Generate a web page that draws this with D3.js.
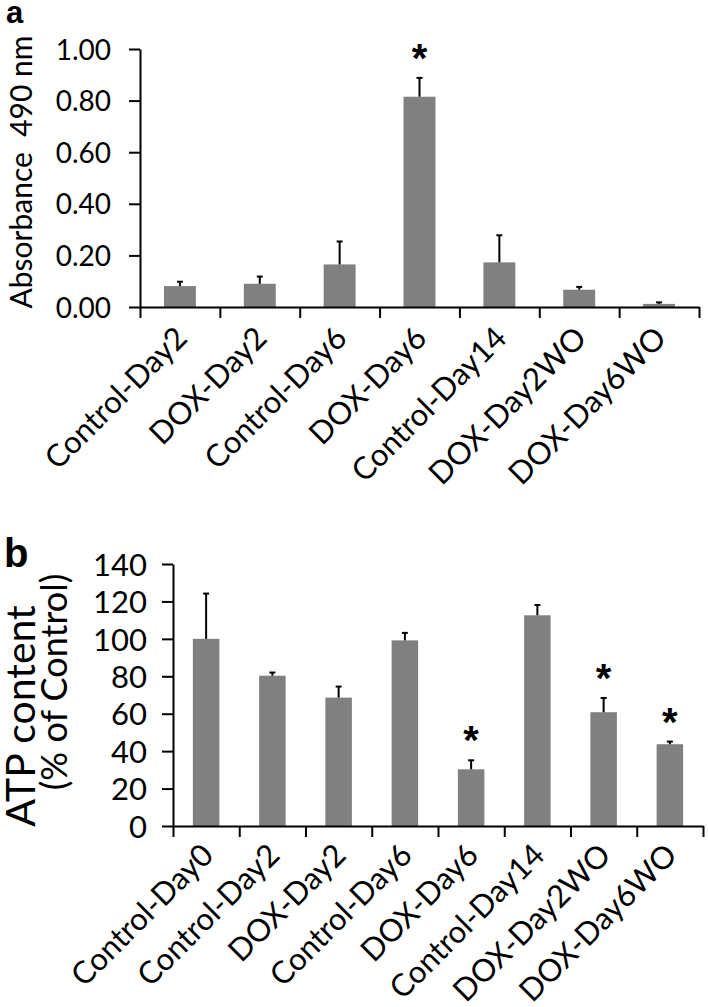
<!DOCTYPE html>
<html>
<head>
<meta charset="utf-8">
<script src="https://cdn.jsdelivr.net/npm/d3@7/dist/d3.min.js"></script>
<style>
  html, body { margin: 0; padding: 0; background: #fff; }
  svg { display: block; }
  text { font-family: Lato, "Open Sans", sans-serif; fill: #000; }
</style>
</head>
<body>
<svg id="chart" width="708" height="1007"></svg>
<script>
// ---- Panel a data ----
const catsA = ["Control-Day2", "DOX-Day2", "Control-Day6", "DOX-Day6", "Control-Day14", "DOX-Day2WO", "DOX-Day6WO"];
const valsA = [0.081, 0.090, 0.165, 0.815, 0.173, 0.067, 0.012];
const errA  = [0.017, 0.028, 0.089, 0.073, 0.105, 0.011, 0.006];
const sigA  = [false, false, false, true, false, false, false];
const ticksA = [0, 0.2, 0.4, 0.6, 0.8, 1.0];
const titleA = "Absorbance\u00a0\u00a0490 nm";

// ---- Panel b data ----
const catsB = ["Control-Day0", "Control-Day2", "DOX-Day2", "Control-Day6", "DOX-Day6", "Control-Day14", "DOX-Day2WO", "DOX-Day6WO"];
const valsB = [100, 80.3, 68.6, 99.2, 30.3, 112.6, 60.8, 43.7];
const errB  = [24.2, 1.7, 5.9, 4.0, 4.8, 5.5, 7.6, 1.4];
const sigB  = [false, false, false, false, true, false, true, true];
const ticksB = [0, 20, 40, 60, 80, 100, 120, 140];
const titleB = ["ATP content", "(% of Control)"];

const svg = d3.select("#chart");
const barColor = "#808080";

function panel(cfg) {
  const g = svg.append("g");
  const x = d3.scaleBand().domain(cfg.cats).range([cfg.x0, cfg.x1]).paddingInner(0.6).paddingOuter(0.3);
  const y = d3.scaleLinear().domain(cfg.yDomain).range([cfg.y0, cfg.y1]);
  const xb = d3.scaleLinear().domain([0, cfg.cats.length]).range([cfg.x0, cfg.x1]);

  // bars
  g.selectAll("rect.bar").data(cfg.vals).join("rect")
    .attr("x", (d, i) => x(cfg.cats[i]))
    .attr("width", x.bandwidth())
    .attr("y", d => y(d))
    .attr("height", d => y(0) - y(d))
    .attr("fill", barColor);

  // error bars (upper only)
  const eb = g.selectAll("g.err").data(cfg.vals).join("g");
  eb.append("line")
    .attr("x1", (d, i) => x(cfg.cats[i]) + x.bandwidth() / 2)
    .attr("x2", (d, i) => x(cfg.cats[i]) + x.bandwidth() / 2)
    .attr("y1", d => y(d))
    .attr("y2", (d, i) => y(d + cfg.errs[i]))
    .attr("stroke", "#000").attr("stroke-width", 2);
  eb.append("line")
    .attr("x1", (d, i) => x(cfg.cats[i]) + x.bandwidth() / 2 - 3)
    .attr("x2", (d, i) => x(cfg.cats[i]) + x.bandwidth() / 2 + 3)
    .attr("y1", (d, i) => y(d + cfg.errs[i]))
    .attr("y2", (d, i) => y(d + cfg.errs[i]))
    .attr("stroke", "#000").attr("stroke-width", 2);

  // significance asterisks
  g.selectAll("text.sig").data(cfg.vals.map((d, i) => ({ d, i })).filter(o => cfg.sig[o.i])).join("text")
    .attr("class", "sig")
    .attr("x", o => x(cfg.cats[o.i]) + x.bandwidth() / 2)
    .attr("y", o => y(o.d + cfg.errs[o.i]) - 6)
    .attr("text-anchor", "middle")
    .style("font-family", "'Liberation Sans', Arial, sans-serif")
    .style("font-weight", "bold")
    .style("font-size", "40px")
    .text("*");

  // y axis
  const ya = g.append("g").attr("transform", `translate(${cfg.x0},0)`)
    .call(d3.axisLeft(y).tickValues(cfg.ticks).tickSize(11).tickSizeOuter(0)
      .tickPadding(cfg.tickPad).tickFormat(cfg.fmt));
  ya.selectAll("path, line").attr("stroke", "#000").attr("stroke-width", 2);
  ya.selectAll("text").style("font-size", cfg.tickFont + "px").style("font-family", "Lato, sans-serif").attr("fill", "#000").attr("dy", "0.36em");

  // x axis with ticks at band boundaries
  const xa = g.append("g").attr("transform", `translate(0,${cfg.y0})`)
    .call(d3.axisBottom(xb).tickValues(d3.range(cfg.cats.length + 1)).tickSize(11).tickSizeOuter(0).tickFormat(""));
  xa.selectAll("path, line").attr("stroke", "#000").attr("stroke-width", 2);

  // category labels
  g.selectAll("text.cat").data(cfg.cats).join("text")
    .attr("class", "cat")
    .attr("text-anchor", "end")
    .attr("transform", d => `translate(${x(d) + x.bandwidth() / 2 + 9},${cfg.y0 + cfg.labOff}) rotate(-45)`)
    .style("font-size", cfg.catFont + "px")
    .text(d => d);

  return g;
}

panel({
  cats: catsA, vals: valsA, errs: errA, sig: sigA, ticks: ticksA,
  yDomain: [0, 1], x0: 140, x1: 699, y0: 307, y1: 49,
  tickPad: 18, tickFont: 28, catFont: 31, labOff: 33, fmt: d3.format(".2f")
});
panel({
  cats: catsB, vals: valsB, errs: errB, sig: sigB, ticks: ticksB,
  yDomain: [0, 140], x0: 173, x1: 703, y0: 826, y1: 564,
  tickPad: 15, tickFont: 31, catFont: 31, labOff: 31, fmt: d3.format("d")
});

// titles
svg.append("text")
  .attr("transform", "translate(32,172) rotate(-90)")
  .attr("text-anchor", "middle")
  .style("font-size", "30px")
  .text(titleA);
svg.append("text")
  .attr("transform", "translate(35,716) rotate(-90)")
  .attr("text-anchor", "middle")
  .style("font-size", "41px")
  .text(titleB[0]);
svg.append("text")
  .attr("transform", "translate(67,682) rotate(-90)")
  .attr("text-anchor", "middle")
  .style("font-size", "36px")
  .text(titleB[1]);

// panel letters
svg.append("text").attr("x", 6).attr("y", 23)
  .style("font-family", "'Liberation Sans', Arial, sans-serif").style("font-weight", "bold").style("font-size", "31px").text("a");
svg.append("text").attr("x", 4).attr("y", 567)
  .style("font-family", "'Liberation Sans', Arial, sans-serif").style("font-weight", "bold").style("font-size", "40px").text("b");
</script>
</body>
</html>
